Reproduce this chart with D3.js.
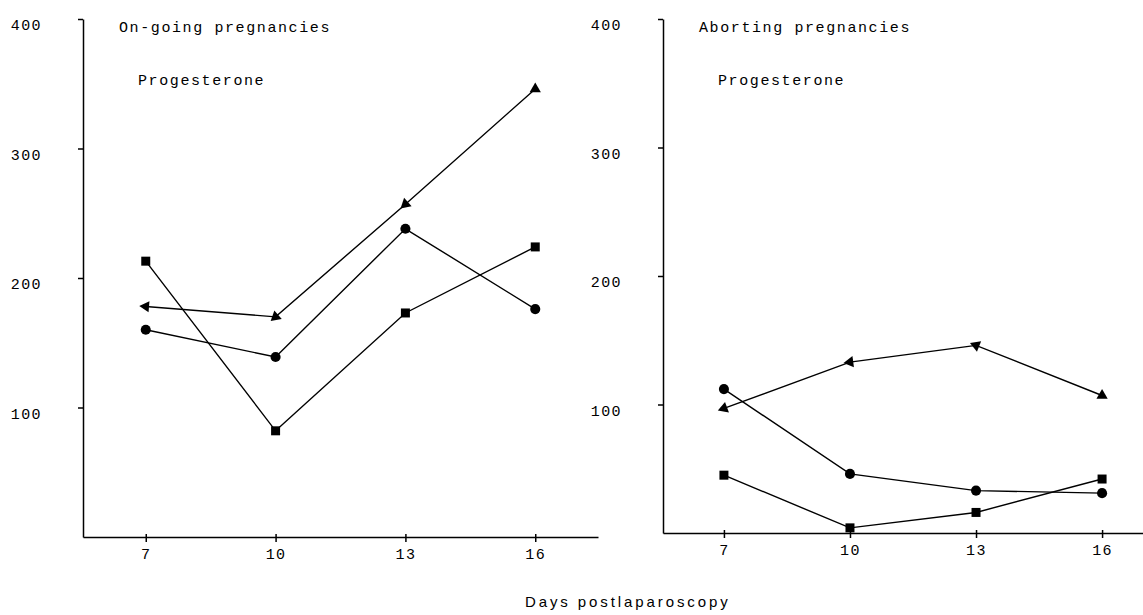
<!DOCTYPE html>
<html>
<head>
<meta charset="utf-8">
<script src="https://cdn.jsdelivr.net/npm/d3@7"></script>
<style>
  body { margin: 0; background: #fff; }
  .mono { font-family: "Liberation Mono", "DejaVu Sans Mono", monospace; font-size: 15px; letter-spacing: 1.6px; fill: #000; }
  .axis path, .axis line { stroke: #000; stroke-width: 1.5px; }
  .axis text { font-family: "Liberation Mono", "DejaVu Sans Mono", monospace; font-size: 15px; letter-spacing: 1.4px; fill: #000; }
</style>
</head>
<body>
<div id="chart"></div>
<script>
(function () {

// data (progesterone, per day postlaparoscopy)
var days = [7, 10, 13, 16];
var yTicks = [100, 200, 300, 400];

var ongoingTriangle = [178, 170, 257, 346];
var ongoingCircle   = [160, 139, 238, 176];
var ongoingSquare   = [213, 82, 173, 224];

var abortingTriangle = [97, 133, 146, 107];
var abortingCircle   = [112, 46, 33, 31];
var abortingSquare   = [45, 4, 16, 42];

var panelTitles = ["On-going pregnancies", "Aborting pregnancies"];
var hormone = "Progesterone";
var xLabel = "Days postlaparoscopy";

var width = 1143, height = 615;

var svg = d3.select("#chart").append("svg")
    .attr("width", width)
    .attr("height", height);

svg.append("rect")
    .attr("width", width)
    .attr("height", height)
    .attr("fill", "#fff");

// panel layout: left edge of y axis, bottom of plot, axis length
var panels = [
  {x: 83, bottom: 537, w: 515, title: panelTitles[0],
   series: [ongoingTriangle, ongoingCircle, ongoingSquare]},
  {x: 663, bottom: 533, w: 500, title: panelTitles[1],
   series: [abortingTriangle, abortingCircle, abortingSquare]}
];
var shapes = ["triangle", "circle", "square"];

panels.forEach(function(p) {
  var g = svg.append("g");

  var xScale = d3.scaleLinear().domain([5.55, 17.45]).range([p.x, p.x + p.w]);
  var yScale = d3.scaleLinear().domain([0, 400]).range([p.bottom, 19]);

  // y axis, ticks pointing left
  g.append("g")
      .attr("class", "axis")
      .attr("transform", "translate(" + p.x + ",0)")
      .call(d3.axisLeft(yScale).tickValues(yTicks).tickSize(5).tickSizeOuter(0).tickPadding(36))
    .selectAll("text")
      .attr("dy", "0.72em");

  // x axis
  var xa = g.append("g")
      .attr("class", "axis")
      .attr("transform", "translate(0," + p.bottom + ")")
      .call(d3.axisBottom(xScale).tickValues(days).tickSize(5).tickSizeOuter(0).tickPadding(6));
  xa.selectAll(".tick line").attr("y1", -3);

  // titles
  g.append("text")
      .attr("class", "mono")
      .attr("x", p.x + 36)
      .attr("y", 32)
      .text(p.title);
  g.append("text")
      .attr("class", "mono")
      .attr("x", p.x + 55)
      .attr("y", 85)
      .text(hormone);

  var line = d3.line()
      .x(function(d, i) { return xScale(days[i]); })
      .y(function(d) { return yScale(d); });

  p.series.forEach(function(vals, k) {
    g.append("path")
        .datum(vals)
        .attr("d", line)
        .attr("fill", "none")
        .attr("stroke", "#000")
        .attr("stroke-width", 1.4);

    var shape = shapes[k];
    var pts = g.selectAll(".pt" + k)
        .data(vals)
      .enter().append("path")
        .attr("class", "pt" + k)
        .attr("fill", "#000");

    if (shape === "circle") {
      pts.attr("d", d3.symbol().type(d3.symbolCircle).size(80))
         .attr("transform", function(d, i) {
           return "translate(" + xScale(days[i]) + "," + yScale(d) + ")";
         });
    } else if (shape === "square") {
      pts.attr("d", d3.symbol().type(d3.symbolSquare).size(81))
         .attr("transform", function(d, i) {
           return "translate(" + xScale(days[i]) + "," + yScale(d) + ")";
         });
    } else {
      // arrow-like triangles, pointing back along the line except the last one
      pts.attr("d", d3.symbol().type(d3.symbolTriangle).size(55))
         .attr("transform", function(d, i) {
           var cx = xScale(days[i]), cy = yScale(d), rot = 0;
           if (i < vals.length - 1) {
             var nx = xScale(days[i + 1]), ny = yScale(vals[i + 1]);
             rot = Math.atan2(cy - ny, cx - nx) * 180 / Math.PI + 90;
           }
           return "translate(" + cx + "," + cy + ") rotate(" + rot + ")";
         });
    }
  });
});

// shared x label
svg.append("text")
    .attr("x", 525)
    .attr("y", 607)
    .style("font-family", "'Liberation Sans', Arial, sans-serif")
    .style("font-size", "15px")
    .style("letter-spacing", "2.9px")
    .attr("fill", "#000")
    .text(xLabel);

})();
</script>
</body>
</html>
